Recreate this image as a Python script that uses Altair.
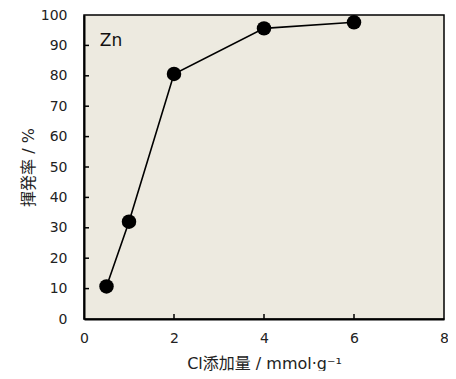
import altair as alt
import pandas as pd

additive = [0.5, 1, 2, 4, 6]
volatility = [10.7, 32, 80.6, 95.6, 97.6]
x_ticks = [2, 4, 6]
y_ticks = [10, 20, 30, 40, 50, 60, 70, 80, 90]
y_labels = [0, 10, 20, 30, 40, 50, 60, 70, 80, 90, 100]
x_labels = [0, 2, 4, 6, 8]
label_text = ["Zn"]
label_x = [0.35]
label_y = [91.5]

W, H = 360, 304
FONT = "DejaVu Sans, Noto Sans CJK JP"

df = pd.DataFrame({"x": additive, "y": volatility})
xt = pd.DataFrame({"x": x_ticks})
yt = pd.DataFrame({"y": y_ticks})
lab = pd.DataFrame({"t": label_text, "x": label_x, "y": label_y})

xscale = alt.Scale(domain=[0, 8], nice=False)
yscale = alt.Scale(domain=[0, 100], nice=False)

xaxis = alt.Axis(values=x_labels, ticks=False, grid=False, domain=True,
                 domainColor="black", domainWidth=2, labelFontSize=14,
                 labelColor="#222", labelPadding=12, labelFont=FONT,
                 labelOverlap=False, labelFlush=False,
                 title="Cl添加量 / mmol·g⁻¹", titleFontSize=16, titleFont=FONT,
                 titleFontWeight="normal", titleColor="#222", titlePadding=10)
yaxis = alt.Axis(values=y_labels, ticks=False, grid=False, domain=True,
                 domainColor="black", domainWidth=2, labelFontSize=14,
                 labelColor="#222", labelPadding=17, labelFont=FONT,
                 labelOverlap=False, labelFlush=False, tickCount=11,
                 title="揮発率 / %", titleFontSize=16, titleFont=FONT,
                 titleFontWeight="normal", titleColor="#222", titlePadding=4)

X = alt.X("x:Q", scale=xscale, axis=xaxis)
Y = alt.Y("y:Q", scale=yscale, axis=yaxis)

line = alt.Chart(df).mark_line(color="black", strokeWidth=1.6).encode(x=X, y=Y)
pts = alt.Chart(df).mark_circle(color="black", size=210, opacity=1).encode(x=X, y=Y)
xtk = alt.Chart(xt).mark_rule(color="black", strokeWidth=1.5).encode(
    x=X, y=alt.value(H), y2=alt.value(H - 5),
)
ytk = alt.Chart(yt).mark_rule(color="black", strokeWidth=1.5).encode(
    y=Y, x=alt.value(0), x2=alt.value(5),
)
txt = alt.Chart(lab).mark_text(align="left", baseline="middle", fontSize=17,
                               font=FONT, color="#111").encode(
    x=X, y=Y, text="t:N",
)

chart = alt.layer(line, xtk, ytk, pts, txt).properties(
    width=W, height=H,
    autosize=alt.AutoSizeParams(type="none"),
    padding={"left": 76, "top": 7, "right": 4, "bottom": 52},
    background="white",
).configure_view(stroke="black", strokeWidth=1.5, fill="#EDEAE0"
).configure_axis(labelOverlap=False)

chart.save("out.html", embed_options={"renderer": "svg", "actions": False})
